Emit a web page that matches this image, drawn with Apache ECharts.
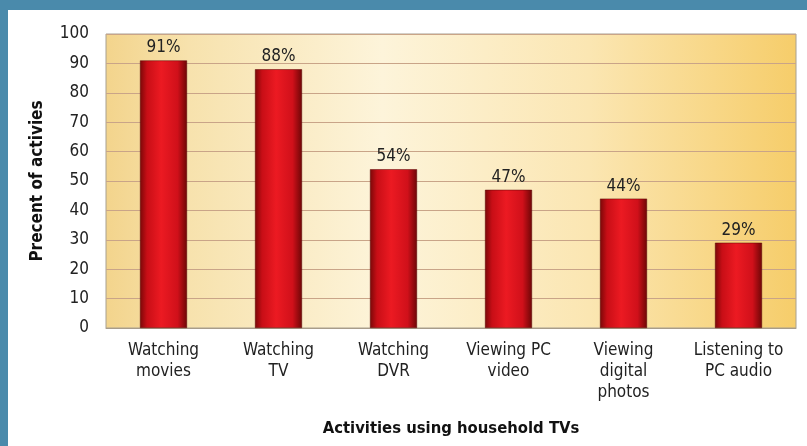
<!DOCTYPE html>
<html><head><meta charset="utf-8">
<script src="https://cdn.jsdelivr.net/npm/echarts@6/dist/echarts.min.js"></script>
<style>html,body{margin:0;padding:0;background:#4a8aab;}#c{width:807px;height:446px;}</style>
</head><body><div id="c"></div>
<script>
const categories = ['Watching\nmovies','Watching\nTV','Watching\nDVR','Viewing PC\nvideo','Viewing\ndigital\nphotos','Listening to\nPC audio'];
const values = [91, 88, 54, 47, 44, 29];
const yTicks = {min: 0, max: 100, interval: 10};
const yTitle = 'Precent of activies';
const xTitle = 'Activities using household TVs';

const FONT = '"DejaVu Sans Condensed", "Roboto", sans-serif';
const chart = echarts.init(document.getElementById('c'));
chart.setOption({
  backgroundColor: '#4a8aab',
  animation: false,
  graphic: [
    {type: 'rect', z: -10, shape: {x: 8, y: 10, width: 799, height: 436}, style: {fill: '#ffffff'}},
    {type: 'rect', z: -5, shape: {x: 106, y: 34, width: 690, height: 294},
     style: {fill: new echarts.graphic.LinearGradient(0, 0, 1, 0, [
       {offset: 0, color: '#f3d48c'}, {offset: 0.12, color: '#f7e2ad'},
       {offset: 0.4, color: '#fdf4da'}, {offset: 0.7, color: '#fbe6b2'},
       {offset: 1, color: '#f6cd6a'}]), stroke: '#a8a090', lineWidth: 1}}
  ],
  grid: {left: 106, right: 11, top: 34, bottom: 118},
  xAxis: {
    type: 'category', data: categories,
    axisLine: {show: true, lineStyle: {color: '#a89c8a'}},
    axisTick: {show: false},
    axisLabel: {fontFamily: FONT, fontSize: 17, color: '#222', lineHeight: 21, margin: 12, interval: 0},
    name: xTitle, nameLocation: 'middle', nameGap: 92,
    nameTextStyle: {fontFamily: FONT, fontSize: 16.5, fontWeight: 'bold', color: '#111'}
  },
  yAxis: {
    type: 'value', min: yTicks.min, max: yTicks.max, interval: yTicks.interval,
    axisLine: {show: false}, axisTick: {show: false},
    axisLabel: {fontFamily: FONT, fontSize: 17, color: '#222', margin: 17},
    splitLine: {lineStyle: {color: '#c9a488', width: 1}},
    name: yTitle, nameLocation: 'middle', nameGap: 60,
    nameTextStyle: {fontFamily: FONT, fontSize: 17, fontWeight: 'bold', color: '#111'}
  },
  series: [{
    type: 'bar', data: values, barWidth: 47,
    itemStyle: {
      color: new echarts.graphic.LinearGradient(0, 0, 1, 0, [
        {offset: 0, color: '#7a0808'}, {offset: 0.15, color: '#c80e16'},
        {offset: 0.45, color: '#ec1a22'}, {offset: 0.8, color: '#d0101a'},
        {offset: 1, color: '#6e0606'}]),
      borderColor: '#5a0505', borderWidth: 0.5
    },
    label: {show: true, position: 'top', formatter: '{c}%', distance: 4,
      fontFamily: FONT, fontSize: 17, color: '#222'}
  }]
});
</script></body></html>
